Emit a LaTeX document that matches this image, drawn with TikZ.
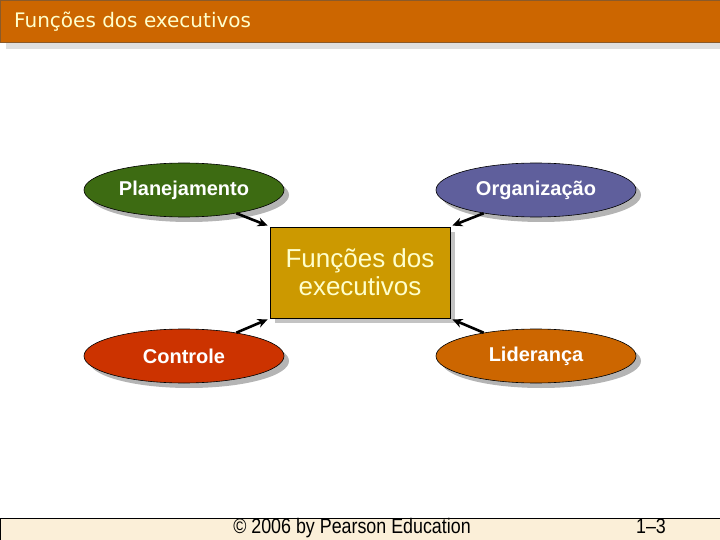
\documentclass[tikz,border=0pt]{standalone}
\usepackage{fontspec}
\setmainfont{Liberation Sans}
\newfontfamily\titlefont{DejaVu Sans}
\newfontfamily\narrowfont[FakeStretch=0.85]{Liberation Sans}
\usetikzlibrary{shapes.geometric,arrows.meta}
\definecolor{titleor}{HTML}{CC6600}
\definecolor{titleedge}{HTML}{8A5A2A}
\definecolor{cream}{HTML}{FFFFCC}
\definecolor{plangreen}{HTML}{3D6B12}
\definecolor{orgblue}{HTML}{5F5F9C}
\definecolor{ctrlred}{HTML}{CC3300}
\definecolor{lidor}{HTML}{CC6600}
\definecolor{boxgold}{HTML}{CC9900}
\definecolor{shadowgray}{HTML}{B4B4B4}
\definecolor{footbg}{HTML}{FBEFD8}
\tikzset{
  oval/.style={ellipse, draw=black, line width=0.6pt, minimum width=200pt, minimum height=54pt,
    inner sep=0pt, text=white, font=\bfseries\fontsize{20}{22}\selectfont},
  ovalshadow/.style={ellipse, fill=shadowgray, minimum width=200pt, minimum height=54pt, inner sep=0pt},
  conn/.style={-{Stealth[length=10pt,width=9pt]}, line width=2.6pt, black},
}
\begin{document}
\begin{tikzpicture}[x=1pt,y=-1pt]
\useasboundingbox (0,0) rectangle (720,540);
% title bar
\fill[gray!25] (6,43) rectangle (720,49);
\draw[fill=titleor, draw=titleedge, line width=1pt] (0.5,0.5) rectangle (720.5,43);
\node[anchor=base west, text=cream, font=\titlefont\fontsize{20}{24}\selectfont, inner sep=0pt] (title) at (14,28) {Funções dos executivos};
% shadows
\node[ovalshadow] at (189,195) {};
\node[ovalshadow] at (541,195) {};
\node[ovalshadow] at (189,361) {};
\node[ovalshadow] at (541,361) {};
\fill[shadowgray!80] (275,232) rectangle (455,323);
% ovals
\node[oval, fill=plangreen] (plan) at (184,190) {Planejamento};
\node[oval, fill=orgblue] (org) at (536,190) {Organização};
\node[oval, fill=ctrlred] (ctrl) at (184,356) {Controle};
\node[oval, fill=lidor] (lid) at (536,356) {Liderança};
% central box
\node[draw=black, line width=0.8pt, fill=boxgold, minimum width=180pt, minimum height=91pt, inner sep=0pt,
  text=cream, align=center, font=\fontsize{26}{28}\selectfont] (box) at (360,272.5) {Funções dos\\executivos};
% connectors
\draw[conn] (plan.-24) -- ([shift={(-2,-1)}]box.north west);
\draw[conn] (org.-156) -- ([shift={(2,-1)}]box.north east);
\draw[conn] (ctrl.24) -- ([shift={(-2,1)}]box.south west);
\draw[conn] (lid.156) -- ([shift={(2,1)}]box.south east);
% footer
\fill[footbg] (0,518) rectangle (720,540);
\draw[black, line width=1pt] (0,518) -- (720,518);
\draw[black, line width=1pt] (0.5,518) -- (0.5,540);
\node[anchor=base, font=\narrowfont\fontsize{21}{24}\selectfont, inner sep=0pt] (copy) at (352,533) {© 2006 by Pearson Education};
\node[anchor=base, font=\narrowfont\fontsize{21}{24}\selectfont, inner sep=0pt] (page) at (651,533) {1–3};
\end{tikzpicture}
\end{document}
